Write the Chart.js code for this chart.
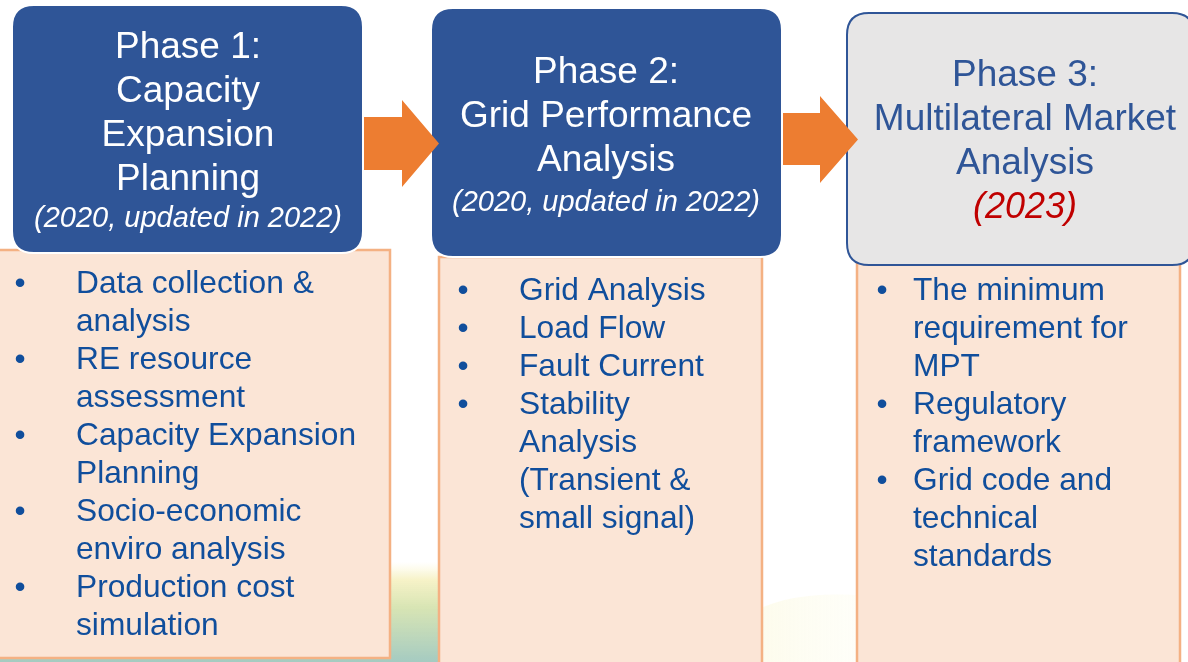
<!DOCTYPE html>
<html>
<head>
<meta charset="utf-8">
<script src="https://cdn.jsdelivr.net/npm/chart.js@4"></script>
<style>
  html, body { margin: 0; padding: 0; background: #ffffff; }
  #wrap { width: 1188px; height: 662px; position: relative; }
</style>
</head>
<body>
<div id="wrap"><canvas id="chart"></canvas></div>
<script>
// Phase headers
const phaseTitles = [
    ["Phase 1:", "Capacity", "Expansion", "Planning"],
    ["Phase 2:", "Grid Performance", "Analysis"],
    ["Phase 3:", "Multilateral Market", "Analysis"]
];
const phaseYears = ["(2020, updated in 2022)", "(2020, updated in 2022)", "(2023)"];

// Task lists, one per phase (line breaks as in the slide)
const phase1Tasks = [
    "Data collection &\nanalysis",
    "RE resource\nassessment",
    "Capacity Expansion\nPlanning",
    "Socio-economic\nenviro analysis",
    "Production cost\nsimulation"
];
const phase2Tasks = [
    "Grid Analysis",
    "Load Flow",
    "Fault Current",
    "Stability\nAnalysis\n(Transient &\nsmall signal)"
];
const phase3Tasks = [
    "The minimum\nrequirement for\nMPT",
    "Regulatory\nframework",
    "Grid code and\ntechnical\nstandards"
];
const phaseTasks = [phase1Tasks, phase2Tasks, phase3Tasks];

// Layout in slide units (mapped through the chart scales)
const layout = {
    headers: [[12, 5, 363, 253], [431, 8, 782, 257], [847, 13, 1194, 265]],
    bodies: [[-3, 250, 390, 658], [439, 257, 762, 672], [857, 262, 1180, 672]],
    titleCenterX: [188, 606, 1025],
    titleY: [48, 73, 76],
    titleStep: 44,
    yearY: [219, 203, 208],
    yearSize: [29, 29, 36],
    bulletX: [20, 463, 882],
    taskX: [76, 519, 913],
    taskY: [284, 291, 291],
    taskStep: 38,
    // shaft x0, shaft y0, shaft y1, head x, head y0, head y1, tip x
    arrows: [[364, 117, 170, 402, 100, 187, 439], [783, 113, 165, 820, 96, 183, 858]]
};

const FONT = '"Liberation Sans", Arial, sans-serif';
const blue = '#2F5597';
const textBlue = '#104E9C';

function roundRect(ctx, x0, y0, x1, y1, r) {
    ctx.beginPath();
    ctx.moveTo(x0 + r, y0);
    ctx.lineTo(x1 - r, y0);
    ctx.quadraticCurveTo(x1, y0, x1, y0 + r);
    ctx.lineTo(x1, y1 - r);
    ctx.quadraticCurveTo(x1, y1, x1 - r, y1);
    ctx.lineTo(x0 + r, y1);
    ctx.quadraticCurveTo(x0, y1, x0, y1 - r);
    ctx.lineTo(x0, y0 + r);
    ctx.quadraticCurveTo(x0, y0, x0 + r, y0);
    ctx.closePath();
}

const diagramPlugin = {
    id: 'diagram',
    beforeDatasetsDraw(chart) {
        const ctx = chart.ctx;
        const sx = v => chart.scales.x.getPixelForValue(v);
        const sy = v => chart.scales.y.getPixelForValue(v);
        ctx.save();

        // faded landscape swoosh in the background
        const g = ctx.createLinearGradient(0, sy(562), 0, sy(662));
        g.addColorStop(0, 'rgba(250, 245, 200, 0.0)');
        g.addColorStop(0.18, 'rgba(245, 240, 190, 0.85)');
        g.addColorStop(0.45, 'rgba(212, 226, 172, 0.9)');
        g.addColorStop(1, 'rgba(160, 200, 190, 0.95)');
        ctx.fillStyle = g;
        ctx.beginPath();
        ctx.moveTo(sx(0), sy(600));
        ctx.bezierCurveTo(sx(150), sy(572), sx(330), sy(558), sx(470), sy(562));
        ctx.bezierCurveTo(sx(560), sy(568), sx(620), sy(590), sx(640), sy(662));
        ctx.lineTo(sx(0), sy(662));
        ctx.closePath();
        ctx.fill();

        const g2 = ctx.createLinearGradient(sx(700), 0, sx(900), 0);
        g2.addColorStop(0, 'rgba(252, 250, 228, 0.0)');
        g2.addColorStop(0.3, 'rgba(252, 250, 228, 0.7)');
        g2.addColorStop(1, 'rgba(255, 255, 245, 0.3)');
        ctx.fillStyle = g2;
        ctx.beginPath();
        ctx.moveTo(sx(700), sy(662));
        ctx.bezierCurveTo(sx(740), sy(600), sx(800), sy(585), sx(900), sy(600));
        ctx.lineTo(sx(900), sy(662));
        ctx.closePath();
        ctx.fill();

        // task boxes
        layout.bodies.forEach(b => {
            ctx.fillStyle = '#FBE5D6';
            ctx.strokeStyle = '#F4B183';
            ctx.lineWidth = 2.5;
            ctx.beginPath();
            ctx.rect(sx(b[0]), sy(b[1]), sx(b[2]) - sx(b[0]), sy(b[3]) - sy(b[1]));
            ctx.fill();
            ctx.stroke();
        });

        // phase header boxes
        layout.headers.forEach((h, i) => {
            roundRect(ctx, sx(h[0]), sy(h[1]), sx(h[2]), sy(h[3]), 22);
            if (i < 2) {
                ctx.fillStyle = blue;
                ctx.strokeStyle = '#ffffff';
            } else {
                ctx.fillStyle = '#E7E6E6';
                ctx.strokeStyle = blue;
            }
            ctx.lineWidth = 2;
            ctx.fill();
            ctx.stroke();
        });

        // arrows
        ctx.fillStyle = '#ED7D31';
        layout.arrows.forEach(a => {
            const mid = (a[4] + a[5]) / 2;
            ctx.beginPath();
            ctx.moveTo(sx(a[0]), sy(a[1]));
            ctx.lineTo(sx(a[3]), sy(a[1]));
            ctx.lineTo(sx(a[3]), sy(a[4]));
            ctx.lineTo(sx(a[6]), sy(mid));
            ctx.lineTo(sx(a[3]), sy(a[5]));
            ctx.lineTo(sx(a[3]), sy(a[2]));
            ctx.lineTo(sx(a[0]), sy(a[2]));
            ctx.closePath();
            ctx.fill();
        });

        // header text
        ctx.textAlign = 'center';
        ctx.textBaseline = 'middle';
        phaseTitles.forEach((lines, i) => {
            ctx.fillStyle = i < 2 ? '#ffffff' : blue;
            ctx.font = '37px ' + FONT;
            lines.forEach((t, k) => {
                ctx.fillText(t, sx(layout.titleCenterX[i]), sy(layout.titleY[i] + k * layout.titleStep));
            });
            ctx.font = 'italic ' + layout.yearSize[i] + 'px ' + FONT;
            ctx.fillStyle = i < 2 ? '#ffffff' : '#C00000';
            ctx.fillText(phaseYears[i], sx(layout.titleCenterX[i]), sy(layout.yearY[i]));
        });

        // task bullets
        ctx.font = '31.7px ' + FONT;
        ctx.fillStyle = textBlue;
        phaseTasks.forEach((tasks, i) => {
            let row = 0;
            tasks.forEach(task => {
                const y0 = layout.taskY[i] + row * layout.taskStep;
                ctx.textAlign = 'center';
                ctx.fillText('\u2022', sx(layout.bulletX[i]), sy(y0));
                ctx.textAlign = 'left';
                task.split('\n').forEach(line => {
                    ctx.fillText(line, sx(layout.taskX[i]), sy(layout.taskY[i] + row * layout.taskStep));
                    row++;
                });
            });
        });

        ctx.restore();
    }
};

new Chart(document.getElementById('chart'), {
    type: 'scatter',
    data: { datasets: [] },
    options: {
        responsive: true,
        maintainAspectRatio: false,
        animation: false,
        layout: { padding: 0 },
        plugins: { legend: { display: false }, tooltip: { enabled: false } },
        scales: {
            x: { type: 'linear', min: 0, max: 1188, display: false },
            y: { type: 'linear', min: 0, max: 662, reverse: true, display: false }
        }
    },
    plugins: [diagramPlugin]
});
</script>
</body>
</html>
